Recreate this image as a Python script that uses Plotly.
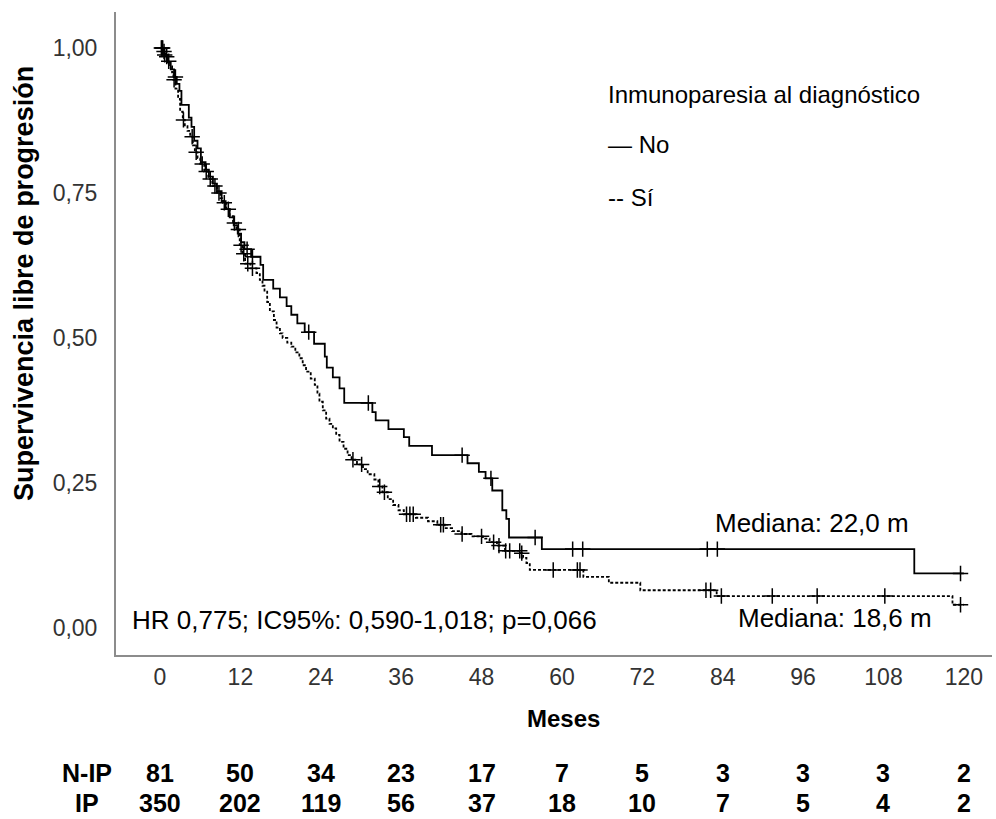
import numpy as np
import plotly.graph_objects as go

# ---------------- data ----------------
no_time = [0, 0.6, 1.1, 1.6, 2.1, 2.5, 2.9, 3.2, 4.3, 4.7, 5.1, 5.6, 6.1, 6.8, 7.3, 7.9, 8.5, 9.2,
           9.8, 10.4, 11.0, 11.6, 12.1, 12.6, 13.6, 15.0, 15.4, 16.9, 17.9, 18.9, 19.6, 20.5, 21.6,
           23.0, 24.6, 24.9, 25.8, 26.8, 27.5, 31.7, 32.2, 34.1, 36.4, 37.2, 40.6, 45.9, 47.6, 48.6,
           49.6, 51.1, 51.7, 52.1, 57.0, 112.6]
no_surv = [1.0, 0.988, 0.975, 0.963, 0.950, 0.938, 0.926, 0.902, 0.880, 0.864, 0.840, 0.827, 0.803,
           0.790, 0.778, 0.766, 0.753, 0.736, 0.722, 0.708, 0.694, 0.680, 0.665, 0.653, 0.640, 0.626,
           0.600, 0.585, 0.570, 0.555, 0.540, 0.525, 0.510, 0.490, 0.468, 0.449, 0.432, 0.413, 0.388,
           0.372, 0.358, 0.343, 0.329, 0.314, 0.298, 0.284, 0.269, 0.258, 0.237, 0.203, 0.188, 0.156,
           0.136, 0.094]
no_cens = [0.3, 0.7, 2.3, 13.0, 13.8, 22.2, 31.1, 45.1, 49.4, 56.0, 61.6, 63.1, 81.7, 83.2, 119.5]

si_time = [0, 0.5, 0.8, 1.1, 1.5, 1.8, 2.0, 2.3, 2.7, 3.0, 3.4, 3.7, 4.1, 4.5, 4.9, 5.2, 5.6, 6.0,
           6.6, 7.2, 7.8, 8.5, 9.0, 9.4, 9.9, 10.4, 10.9, 11.4, 11.9, 12.3, 12.7, 13.5, 14.4, 14.9,
           15.3, 15.6, 16.0, 16.4, 17.0, 17.4, 17.9, 18.3, 19.0, 19.6, 20.2, 20.8, 21.3, 21.8, 22.5,
           23.1, 23.5, 23.8, 24.3, 24.8, 25.3, 25.8, 26.3, 26.8, 27.4, 28.0, 28.6, 29.4, 30.3, 31.0,
           32.0, 32.6, 33.2, 34.0, 34.8, 35.6, 36.4, 38.2, 40.0, 41.4, 42.5, 43.6, 45.0, 46.5, 48.2,
           49.2, 50.3, 51.5, 53.9, 54.2, 54.7, 55.2, 63.2, 67.0, 71.7, 83.1, 118.3]
si_surv = [1.0, 0.994, 0.985, 0.977, 0.968, 0.958, 0.945, 0.930, 0.912, 0.890, 0.876, 0.865, 0.857,
           0.847, 0.832, 0.820, 0.810, 0.800, 0.787, 0.774, 0.762, 0.750, 0.741, 0.733, 0.722, 0.710,
           0.698, 0.687, 0.660, 0.645, 0.628, 0.620, 0.612, 0.600, 0.590, 0.580, 0.562, 0.546, 0.531,
           0.518, 0.508, 0.500, 0.492, 0.485, 0.475, 0.465, 0.453, 0.442, 0.430, 0.419, 0.404, 0.390,
           0.375, 0.361, 0.352, 0.344, 0.333, 0.321, 0.309, 0.298, 0.290, 0.282, 0.274, 0.265, 0.256,
           0.244, 0.234, 0.222, 0.212, 0.203, 0.196, 0.190, 0.184, 0.178, 0.172, 0.167, 0.162, 0.158,
           0.154, 0.148, 0.142, 0.133, 0.129, 0.121, 0.112, 0.100, 0.088, 0.078, 0.065, 0.055, 0.040]
si_cens = [0.2, 0.4, 0.6, 1.0, 1.3, 2.1, 3.5, 4.8, 5.4, 6.3, 6.9, 7.5, 8.2, 8.8, 9.6, 10.2, 11.1,
           11.7, 12.1, 12.5, 13.1, 13.8, 28.8, 30.1, 32.8, 33.5, 36.8, 37.3, 37.8, 41.9, 42.3, 45.1,
           48.0, 49.8, 50.6, 51.6, 52.2, 53.7, 54.0, 58.7, 62.3, 62.7, 81.5, 82.2, 83.8, 91.4, 98.1,
           108.2, 119.5]

x_ticks = [0, 12, 24, 36, 48, 60, 72, 84, 96, 108, 120]
y_ticks = [0, 0.25, 0.5, 0.75, 1.0]
y_ticktext = ["0,00", "0,25", "0,50", "0,75", "1,00"]

risk_labels = ["N-IP", "IP"]
risk_nip = [81, 50, 34, 23, 17, 7, 5, 3, 3, 3, 2]
risk_ip = [350, 202, 119, 56, 37, 18, 10, 7, 5, 4, 2]

legend_title = "Inmunoparesia al diagnóstico"
legend_items = ["— No", "-- Sí"]
median_no = "Mediana: 22,0 m"
median_si = "Mediana: 18,6 m"
hr_text = "HR 0,775; IC95%: 0,590-1,018; p=0,066"
x_title = "Meses"
y_title = "Supervivencia libre de progresión"
t_end = 120

# ---------------- layout geometry ----------------
W, H = 996, 819
ML, MR, MT, MB = 116, 4, 12, 164
PW, PH = W - ML - MR, H - MT - MB


def px(xp):
    return (xp - ML) / PW


def py(yp):
    return (H - MB - yp) / PH


FONT = "Liberation Sans, Arial, sans-serif"


def step_at(times, surv, t):
    idx = np.searchsorted(np.array(times), np.array(t), side="right") - 1
    return list(np.array(surv)[idx])


fig = go.Figure()

for times, surv, cens, dash in [(no_time, no_surv, no_cens, "solid"),
                                (si_time, si_surv, si_cens, "3px,2px")]:
    fig.add_trace(go.Scatter(
        x=list(times) + [t_end], y=list(surv) + [surv[-1]],
        mode="lines", line=dict(color="black", width=1.8, dash=dash, shape="hv"),
        showlegend=False, hoverinfo="skip"))
    fig.add_trace(go.Scatter(
        x=cens, y=step_at(times, surv, cens), mode="markers",
        marker=dict(symbol="cross-thin", size=11, line=dict(color="black", width=1.5)),
        showlegend=False, hoverinfo="skip"))

ann = []
# legend
ann.append(dict(text=legend_title, x=px(606), y=py(95), xref="paper", yref="paper",
                xanchor="left", yanchor="middle", showarrow=False,
                font=dict(family=FONT, size=24, color="black")))
for txt, yy in zip(legend_items, [145, 197]):
    ann.append(dict(text=txt, x=px(606), y=py(yy), xref="paper", yref="paper",
                    xanchor="left", yanchor="middle", showarrow=False,
                    font=dict(family=FONT, size=24, color="black")))
# medians + HR
ann.append(dict(text=median_no, x=px(713), y=py(523), xref="paper", yref="paper",
                xanchor="left", yanchor="middle", showarrow=False,
                font=dict(family=FONT, size=26, color="black")))
ann.append(dict(text=median_si, x=px(736), y=py(618), xref="paper", yref="paper",
                xanchor="left", yanchor="middle", showarrow=False,
                font=dict(family=FONT, size=26, color="black")))
ann.append(dict(text=hr_text, x=px(130), y=py(620), xref="paper", yref="paper",
                xanchor="left", yanchor="middle", showarrow=False,
                font=dict(family=FONT, size=26, color="black")))
# axis titles
ann.append(dict(text="<b>%s</b>" % x_title, x=px(563), y=py(718), xref="paper", yref="paper",
                xanchor="center", yanchor="middle", showarrow=False,
                font=dict(family=FONT, size=24, color="black")))
ann.append(dict(text="<b>%s</b>" % y_title, x=px(24), y=py(284), xref="paper", yref="paper",
                xanchor="center", yanchor="middle", showarrow=False, textangle=-90,
                font=dict(family=FONT, size=27, color="black")))
# risk table
for lab, yy in zip(risk_labels, [773, 803]):
    ann.append(dict(text="<b>%s</b>" % lab, x=px(87), y=py(yy), xref="paper", yref="paper",
                    xanchor="center", yanchor="middle", showarrow=False,
                    font=dict(family=FONT, size=25, color="black")))
for row, yy in zip([risk_nip, risk_ip], [773, 803]):
    for t, v in zip(x_ticks, row):
        ann.append(dict(text="<b>%d</b>" % v, x=t, y=py(yy), xref="x", yref="paper",
                        xanchor="center", yanchor="middle", showarrow=False,
                        font=dict(family=FONT, size=25, color="black")))

fig.update_layout(
    width=W, height=H, margin=dict(l=ML, r=MR, t=MT, b=MB),
    paper_bgcolor="white", plot_bgcolor="white",
    annotations=ann,
    xaxis=dict(range=[-6.57, 124.2], tickvals=x_ticks, ticktext=[str(v) for v in x_ticks],
               showgrid=False, zeroline=False, showline=True, linecolor="#8c8c8c", linewidth=2,
               ticks="", ticklabelstandoff=0,
               tickfont=dict(family=FONT, size=23, color="#333333")),
    yaxis=dict(range=[-0.0466, 1.062], tickvals=y_ticks, ticktext=y_ticktext,
               showgrid=False, zeroline=False, showline=True, linecolor="#8c8c8c", linewidth=2,
               ticks="", ticklabelstandoff=12,
               tickfont=dict(family=FONT, size=23, color="#333333")),
)

fig.write_html("out.html")
